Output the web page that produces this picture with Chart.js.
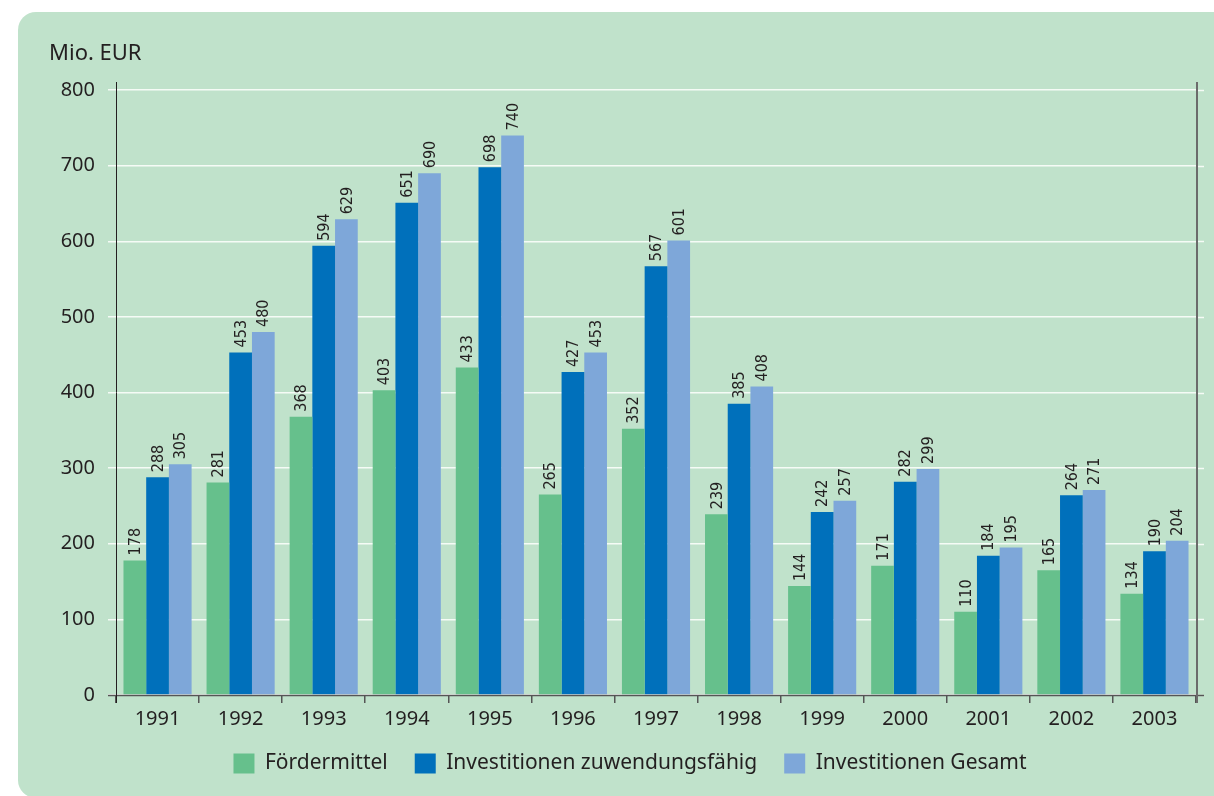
<!DOCTYPE html>
<html lang="de">
<head>
<meta charset="utf-8">
<title>Fördermittel und Investitionen 1991–2003</title>
<script src="https://cdn.jsdelivr.net/npm/chart.js@4/dist/chart.umd.min.js"></script>
<style>
  html, body { margin: 0; padding: 0; background: #ffffff; }
  #wrap { width: 1214px; height: 796px; position: relative; }
  canvas { display: block; }
</style>
</head>
<body>
<div id="wrap"><canvas id="c" width="1214" height="796"></canvas></div>
<script>
// Jahre und Werte (Mio. EUR)
const years = ['1991','1992','1993','1994','1995','1996','1997','1998','1999','2000','2001','2002','2003'];
const foerdermittel = [178, 281, 368, 403, 433, 265, 352, 239, 144, 171, 110, 165, 134];
const investZuwendungsfaehig = [288, 453, 594, 651, 698, 427, 567, 385, 242, 282, 184, 264, 190];
const investGesamt = [305, 480, 629, 690, 740, 453, 601, 408, 257, 299, 195, 271, 204];
const seriesNames = ['Fördermittel', 'Investitionen zuwendungsfähig', 'Investitionen Gesamt'];
const yTicks = [0, 100, 200, 300, 400, 500, 600, 700, 800];
const unitLabel = 'Mio. EUR';

const PANEL = '#c0e2cb';
const TEXT = '#231f20';
const BASE_FONT = '"Noto Sans", "Liberation Sans", Arial, sans-serif';
const NARROW_FONT = '"Liberation Sans Narrow", "DejaVu Sans Condensed", "Liberation Sans", sans-serif';

// Grüner Hintergrund mit abgerundeten Ecken, Einheit oben links
const panelPlugin = {
  id: 'panel',
  beforeDraw(chart) {
    const ctx = chart.ctx;
    ctx.save();
    ctx.fillStyle = '#ffffff';
    ctx.fillRect(0, 0, chart.width, chart.height);
    ctx.fillStyle = PANEL;
    ctx.beginPath();
    ctx.roundRect(18, 12, chart.width + 40, chart.height - 12 + 2, 18);
    ctx.fill();
    ctx.fillStyle = TEXT;
    ctx.font = '22px ' + BASE_FONT;
    ctx.textAlign = 'left';
    ctx.textBaseline = 'alphabetic';
    ctx.fillText(unitLabel, 49, 60);
    ctx.restore();
  }
};

// Gitterlinien rechts verlängern, Achsenlinien links/rechts/unten
const framePlugin = {
  id: 'frame',
  beforeDatasetsDraw(chart) {
    const {ctx, chartArea, scales} = chart;
    ctx.save();
    ctx.strokeStyle = 'rgba(248,252,248,0.95)';
    ctx.lineWidth = 1.5;
    yTicks.forEach(v => {
      const y = Math.round(scales.y.getPixelForValue(v)) + 0.5;
      ctx.beginPath();
      ctx.moveTo(chartArea.right, y);
      ctx.lineTo(chartArea.right + 8, y);
      ctx.stroke();
    });
    ctx.restore();
  },
  afterDatasetsDraw(chart) {
    const {ctx, chartArea, scales} = chart;
    const top = scales.y.getPixelForValue(800) - 8;
    const bottom = scales.y.getPixelForValue(0);
    ctx.save();
    // x-Achse
    ctx.strokeStyle = '#555555';
    ctx.lineWidth = 1.5;
    ctx.beginPath();
    ctx.moveTo(chartArea.left - 8, bottom + 0.5);
    ctx.lineTo(chartArea.right + 8, bottom + 0.5);
    ctx.stroke();
    // linke Achse
    ctx.strokeStyle = '#231f20';
    ctx.lineWidth = 1;
    ctx.beginPath();
    ctx.moveTo(chartArea.left + 0.5, top);
    ctx.lineTo(chartArea.left + 0.5, bottom + 8);
    ctx.stroke();
    // rechte Begrenzung
    ctx.strokeStyle = '#6b6b6b';
    ctx.lineWidth = 2;
    ctx.beginPath();
    ctx.moveTo(chartArea.right + 1, top);
    ctx.lineTo(chartArea.right + 1, bottom + 8);
    ctx.stroke();
    ctx.restore();
  }
};

// Senkrechte Wertbeschriftung über jedem Balken
const valueLabelPlugin = {
  id: 'valueLabels',
  afterDatasetsDraw(chart) {
    const ctx = chart.ctx;
    ctx.save();
    ctx.fillStyle = TEXT;
    ctx.font = '16px ' + NARROW_FONT;
    ctx.textAlign = 'left';
    ctx.textBaseline = 'middle';
    chart.data.datasets.forEach((ds, di) => {
      const meta = chart.getDatasetMeta(di);
      meta.data.forEach((bar, i) => {
        ctx.save();
        ctx.translate(bar.x, bar.y - 5);
        ctx.rotate(-Math.PI / 2);
        ctx.fillText(String(ds.data[i]), 0, 1);
        ctx.restore();
      });
    });
    ctx.restore();
  }
};

// Legende horizontal verschieben
const legendShift = {
  id: 'legendShift',
  afterLayout(chart) {
    if (chart.legend) {
      chart.legend.left += 32;
      chart.legend.right += 32;
    }
  }
};

new Chart(document.getElementById('c'), {
  type: 'bar',
  data: {
    labels: years,
    datasets: [
      { label: seriesNames[0], data: foerdermittel, backgroundColor: '#66c08c' },
      { label: seriesNames[1], data: investZuwendungsfaehig, backgroundColor: '#0070bb' },
      { label: seriesNames[2], data: investGesamt, backgroundColor: '#7ea7d9' }
    ]
  },
  options: {
    responsive: false,
    animation: false,
    devicePixelRatio: 1,
    layout: { padding: { top: 90, left: 0, right: 18, bottom: 12 } },
    datasets: {
      bar: { categoryPercentage: 0.82, barPercentage: 1.0, borderWidth: 0 }
    },
    plugins: {
      tooltip: { enabled: false },
      legend: {
        position: 'bottom',
        labels: {
          boxWidth: 21,
          boxHeight: 20,
          padding: 27,
          color: TEXT,
          font: { family: BASE_FONT, size: 21 }
        }
      }
    },
    scales: {
      x: {
        grid: {
          offset: true,
          drawOnChartArea: false,
          drawTicks: true,
          tickLength: 8,
          color: '#555555',
          lineWidth: 1.5
        },
        border: { display: false },
        ticks: { color: TEXT, font: { family: BASE_FONT, size: 20 }, padding: 4 },
        afterFit(scale) { scale.height = 31; }
      },
      y: {
        min: 0,
        max: 800,
        afterBuildTicks(scale) { scale.ticks = yTicks.map(v => ({ value: v })); },
        grid: {
          color: 'rgba(248,252,248,0.95)',
          lineWidth: 1.5,
          tickLength: 8,
          drawTicks: true
        },
        border: { display: false },
        ticks: { color: TEXT, font: { family: BASE_FONT, size: 20 }, padding: 13 },
        afterFit(scale) { scale.width = 116; }
      }
    }
  },
  plugins: [panelPlugin, framePlugin, valueLabelPlugin, legendShift]
});
</script>
</body>
</html>
